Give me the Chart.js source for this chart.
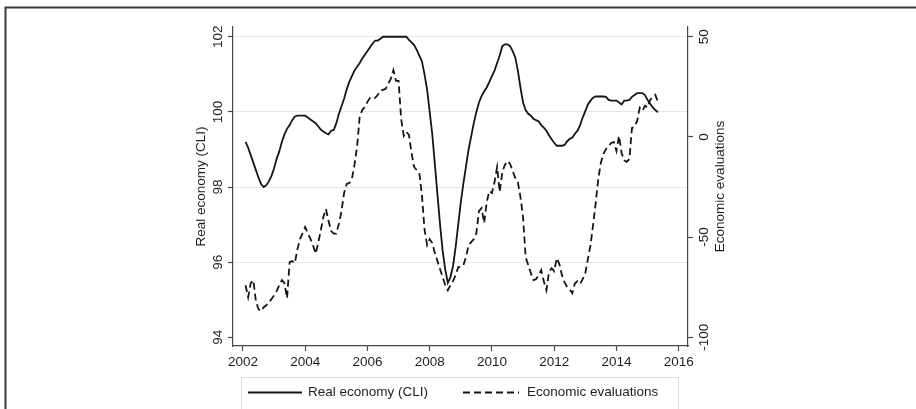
<!DOCTYPE html>
<html>
<head>
<meta charset="utf-8">
<script src="https://cdn.jsdelivr.net/npm/chart.js@4.4.1/dist/chart.umd.min.js"></script>
<style>
  html, body { margin: 0; padding: 0; background: #fff; }
  #wrap { position: relative; width: 916px; height: 409px; }
  canvas { display: block; }
</style>
</head>
<body>
<div id="wrap"><canvas id="chart" width="916" height="409"></canvas></div>
<script>
// Monthly observations, February 2002 to May 2015
const firstYear = 2002;
const firstMonth = 2;

// Composite leading indicator (left axis)
const cliValues = [
  // 2002 (Feb-Dec)
  99.2, 99.05, 98.85, 98.65, 98.45, 98.25, 98.08, 98.0, 98.05, 98.15, 98.3,
  // 2003
  98.5, 98.75, 98.95, 99.2, 99.4, 99.55, 99.65, 99.78, 99.88, 99.9, 99.9, 99.9,
  // 2004
  99.9, 99.85, 99.8, 99.75, 99.7, 99.62, 99.53, 99.48, 99.43, 99.4, 99.5, 99.52,
  // 2005
  99.7, 99.95, 100.15, 100.35, 100.6, 100.8, 100.95, 101.1, 101.2, 101.3, 101.42, 101.52,
  // 2006
  101.62, 101.72, 101.82, 101.9, 101.9, 101.95, 102, 102, 102, 102, 102, 102,
  // 2007
  102, 102, 102, 102, 101.92, 101.85, 101.78, 101.65, 101.5, 101.35, 101.0, 100.6,
  // 2008
  100.0, 99.4, 98.6, 97.8, 97.0, 96.3, 95.8, 95.45, 95.6, 95.9, 96.4, 97.0,
  // 2009
  97.6, 98.1, 98.55, 99.0, 99.35, 99.7, 100.0, 100.25, 100.42, 100.55, 100.65, 100.8,
  // 2010
  100.95, 101.1, 101.3, 101.5, 101.75, 101.8, 101.8, 101.75, 101.62, 101.45, 101.1, 100.65,
  // 2011
  100.25, 100.05, 99.95, 99.9, 99.82, 99.78, 99.75, 99.65, 99.58, 99.5, 99.38, 99.27,
  // 2012
  99.18, 99.1, 99.1, 99.1, 99.12, 99.22, 99.28, 99.32, 99.42, 99.5, 99.65, 99.85,
  // 2013
  100.02, 100.2, 100.3, 100.38, 100.41, 100.41, 100.41, 100.41, 100.4, 100.32, 100.3, 100.3,
  // 2014
  100.3, 100.25, 100.2, 100.3, 100.3, 100.32, 100.4, 100.45, 100.5, 100.5, 100.5, 100.45,
  // 2015 (Jan-May)
  100.32, 100.22, 100.12, 100.05, 99.99
];

// Economic evaluations balance (right axis)
const evaluationValues = [
  // 2002 (Feb-Dec)
  -74, -80, -73, -71.5, -82, -86, -87, -85, -84, -82.5, -81,
  // 2003
  -79, -77, -74, -71.5, -73, -80.5, -62.5, -62, -63, -56, -51, -48,
  // 2004
  -45, -48, -50.8, -54, -58.3, -53, -46.7, -40, -36, -42, -47, -48.3,
  // 2005
  -48.3, -43.3, -37, -28, -23.5, -23, -21, -14, -5, 10, 13.5, 15,
  // 2006
  17.5, 19.5, 19, 19.5, 21, 23, 23.5, 24, 26.5, 29, 33.3, 28,
  // 2007
  28, 9, 0.5, 2.5, 1, -8, -15, -16.5, -18, -29, -46, -54,
  // 2008
  -51, -53, -58, -62, -66, -70, -74, -76.5, -74, -72, -69, -65,
  // 2009
  -65, -64, -60, -54, -52.5, -51, -48, -37, -35.5, -43, -32.5, -27,
  // 2010
  -28, -22.5, -15, -27.5, -17.5, -14, -12, -13.5, -17, -20.5, -22.5, -30,
  // 2011
  -40, -60, -64, -68, -71.5, -71, -69, -66.5, -72, -76.5, -67.5, -65.5,
  // 2012
  -67, -60.5, -63.5, -69, -72.5, -75, -76, -78, -73, -72, -73.3, -71,
  // 2013
  -68, -61, -54, -44, -33, -21, -13, -8.5, -6, -4.5, -3, -2.5,
  // 2014
  -7, 0.5, -8, -11.7, -12.5, -11, 4.5, 5, 8, 14.5, 13, 15.5,
  // 2015 (Jan-May)
  14.7, 18.5, 20, 21, 17.5
];

const yearTicks = [2002, 2004, 2006, 2008, 2010, 2012, 2014, 2016];
const cliTicks = [94, 96, 98, 100, 102];
const evaluationTicks = [-100, -50, 0, 50];

const cliLabel = 'Real economy (CLI)';
const evaluationLabel = 'Economic evaluations';

// Decimal-year position of each monthly observation
const monthPosition = i => firstYear + (firstMonth - 1 + i) / 12;
const cliPoints = cliValues.map((v, i) => ({ x: monthPosition(i), y: v }));
const evaluationPoints = evaluationValues.map((v, i) => ({ x: monthPosition(i), y: v }));

const axisColor = '#474747';
const textColor = '#1e1e1e';
const lineColor = '#151515';
const fontFamily = '"Liberation Sans", Arial, Helvetica, sans-serif';
const fontSize = 13.5;
const dashPattern = [7, 4];

const setTicks = values => scale => { scale.ticks = values.map(v => ({ value: v })); };

// Rotated y tick labels, axis titles, legend and the outer frame
const annotations = {
  id: 'annotations',
  beforeDraw(chart) {
    const ctx = chart.ctx;
    ctx.save();
    ctx.fillStyle = '#fff';
    ctx.fillRect(0, 0, chart.width, chart.height);
    ctx.restore();
  },
  afterDraw(chart) {
    const { ctx, chartArea, scales } = chart;
    const yL = scales.y, yR = scales.y2;
    ctx.save();
    ctx.font = `${fontSize}px ${fontFamily}`;
    ctx.fillStyle = textColor;
    ctx.textAlign = 'center';
    ctx.textBaseline = 'middle';
    const vertical = (text, px, py) => {
      ctx.save();
      ctx.translate(px, py);
      ctx.rotate(-Math.PI / 2);
      ctx.fillText(text, 0, 0);
      ctx.restore();
    };
    cliTicks.forEach(v => vertical(String(v), chartArea.left - 15, yL.getPixelForValue(v)));
    evaluationTicks.forEach(v => vertical(String(v), chartArea.right + 16, yR.getPixelForValue(v)));
    const midY = (chartArea.top + chartArea.bottom) / 2;
    vertical(cliLabel, chartArea.left - 31.5, midY);
    vertical(evaluationLabel, chartArea.right + 32, midY);

    // legend
    ctx.strokeStyle = '#dcdcdc';
    ctx.lineWidth = 1;
    ctx.strokeRect(241.5, 377.5, 437, 40);
    const ly = 392.5;
    ctx.strokeStyle = lineColor;
    ctx.lineWidth = 1.8;
    ctx.beginPath(); ctx.moveTo(248, ly); ctx.lineTo(302, ly); ctx.stroke();
    ctx.setLineDash(dashPattern);
    ctx.beginPath(); ctx.moveTo(463, ly); ctx.lineTo(519, ly); ctx.stroke();
    ctx.setLineDash([]);
    ctx.textAlign = 'left';
    ctx.fillText(cliLabel, 308, ly);
    ctx.fillText(evaluationLabel, 527, ly);

    // frame
    ctx.strokeStyle = '#3c3c3c';
    ctx.lineWidth = 2;
    ctx.beginPath();
    ctx.moveTo(5.5, chart.height);
    ctx.lineTo(5.5, 7.5);
    ctx.lineTo(chart.width, 7.5);
    ctx.stroke();
    ctx.restore();
  }
};

new Chart(document.getElementById('chart'), {
  type: 'line',
  data: {
    datasets: [
      {
        label: cliLabel,
        data: cliPoints,
        yAxisID: 'y',
        borderColor: lineColor,
        borderWidth: 1.8,
        pointRadius: 0,
        tension: 0,
        fill: false
      },
      {
        label: evaluationLabel,
        data: evaluationPoints,
        yAxisID: 'y2',
        borderColor: lineColor,
        borderWidth: 1.8,
        borderDash: dashPattern,
        pointRadius: 0,
        tension: 0,
        fill: false
      }
    ]
  },
  options: {
    responsive: false,
    devicePixelRatio: 1,
    animation: false,
    events: [],
    layout: { padding: { top: 27, left: 0, right: 0, bottom: 0 } },
    plugins: { legend: { display: false }, tooltip: { enabled: false } },
    scales: {
      x: {
        type: 'linear',
        min: 2001.68,
        max: 2016.3,
        afterBuildTicks: setTicks(yearTicks),
        afterFit: s => { s.height = 63; },
        grid: { drawOnChartArea: false, tickLength: 5, tickColor: axisColor, tickWidth: 1.2 },
        border: { color: axisColor, width: 1.2 },
        ticks: {
          autoSkip: false, maxRotation: 0, padding: 3,
          color: textColor,
          font: { family: fontFamily, size: fontSize },
          callback: v => String(v)
        }
      },
      y: {
        type: 'linear',
        position: 'left',
        min: 93.77,
        max: 102.26,
        afterBuildTicks: setTicks(cliTicks),
        afterFit: s => { s.width = 233; },
        grid: {
          color: c => (c.tick && c.tick.value === 94) ? 'rgba(0,0,0,0)' : '#e6e6e6',
          lineWidth: 1,
          tickLength: 5, tickColor: axisColor, tickWidth: 1.2
        },
        border: { color: axisColor, width: 1.2 },
        ticks: { display: false }
      },
      y2: {
        type: 'linear',
        position: 'right',
        min: -104.35,
        max: 54.85,
        afterBuildTicks: setTicks(evaluationTicks),
        afterFit: s => { s.width = 228; },
        grid: { drawOnChartArea: false, tickLength: 5, tickColor: axisColor, tickWidth: 1.2 },
        border: { color: axisColor, width: 1.2 },
        ticks: { display: false }
      }
    }
  },
  plugins: [annotations]
});
</script>
</body>
</html>
